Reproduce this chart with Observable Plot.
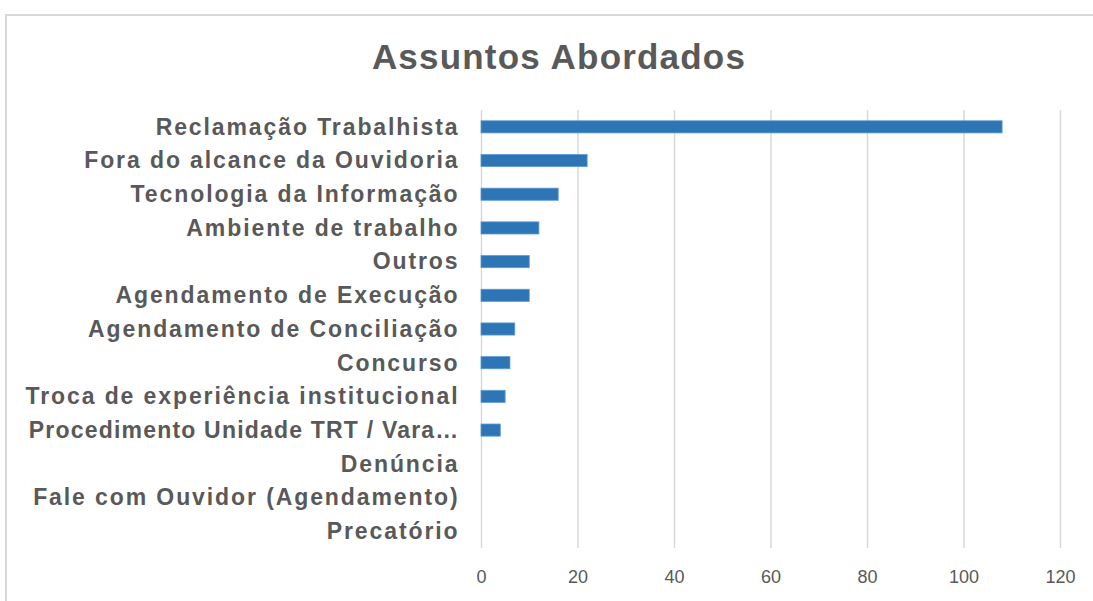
<!DOCTYPE html>
<html><head><meta charset="utf-8">
<script src="https://cdn.jsdelivr.net/npm/d3@7"></script>
<script src="https://cdn.jsdelivr.net/npm/@observablehq/plot@0.6"></script>
<style>
html,body{margin:0;padding:0;background:#fff;width:1093px;height:601px;overflow:hidden;font-family:"Liberation Sans",Arial,sans-serif;}
#frame{position:absolute;left:5px;top:14px;width:1200px;height:700px;border-left:2px solid #d9d9d9;border-top:2px solid #d9d9d9;}
#title{position:absolute;left:0;top:34px;width:1118px;text-align:center;font-size:35px;font-weight:bold;color:#595959;line-height:46px;letter-spacing:1.2px;}
#chart{position:absolute;left:0;top:90px;}
.ylab text{letter-spacing:1.9px;}
</style></head>
<body>
<div id="frame"></div>
<div id="title">Assuntos Abordados</div>
<div id="chart"></div>
<script>
const categories = [
  "Reclamação Trabalhista",
  "Fora do alcance da Ouvidoria",
  "Tecnologia da Informação",
  "Ambiente de trabalho",
  "Outros",
  "Agendamento de Execução",
  "Agendamento de Conciliação",
  "Concurso",
  "Troca de experiência institucional",
  "Procedimento Unidade TRT / Vara…",
  "Denúncia",
  "Fale com Ouvidor (Agendamento)",
  "Precatório"
];
const values = [108, 22, 16, 12, 10, 10, 7, 6, 5, 4, 0, 0, 0];
const xTicks = [0, 20, 40, 60, 80, 100, 120];

const data = categories.map((c, i) => ({assunto: c, total: values[i]}));

const chart = Plot.plot({
  width: 1093,
  height: 511,
  marginLeft: 481,
  marginRight: 33,
  marginTop: 20,
  marginBottom: 53,
  style: {fontFamily: '"Liberation Sans", Arial, sans-serif', color: "#595959", background: "transparent"},
  x: {domain: [0, 120], ticks: xTicks, label: null},
  y: {domain: categories, label: null, paddingInner: 0.64, paddingOuter: 0.32, round: false},
  marks: [
    Plot.gridX(xTicks, {stroke: "#d9d9d9", strokeOpacity: 1, strokeWidth: 1.5}),
    Plot.axisX({ticks: xTicks, tickSize: 0, tickPadding: 22, fontSize: 18, fill: "#595959", label: null}),
    Plot.axisY({className: "ylab", tickSize: 0, tickPadding: 22, fontSize: 23, fontWeight: "bold", fill: "#595959", label: null}),
    Plot.barX(data, {x: "total", y: "assunto", fill: "#2e75b6", stroke: "#5b9bd5", strokeWidth: 0.8})
  ]
});
d3.select(chart).selectAll(".ylab text")
  .filter(function() { return this.textContent === categories[9]; })
  .style("letter-spacing", "1.2px");
document.getElementById("chart").appendChild(chart);
</script>
</body></html>
